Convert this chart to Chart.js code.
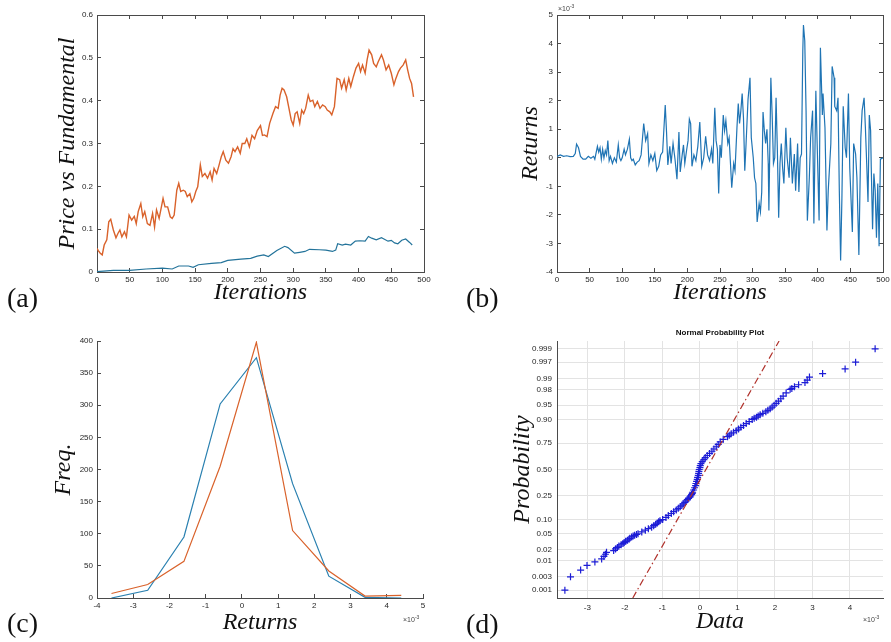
<!DOCTYPE html>
<html>
<head>
<meta charset="utf-8">
<script src="https://cdn.jsdelivr.net/npm/chart.js@4.4.1/dist/chart.umd.min.js"></script>
<style>
  html, body { margin: 0; padding: 0; background: #fff; overflow: hidden; }
  #page { position: relative; width: 891px; height: 642px; overflow: hidden; background: #fff; }
  canvas { position: absolute; }
  .tag { position: absolute; font-family: 'Liberation Serif', 'Times New Roman', serif; font-size: 28px; line-height: 1; color: #111; }
  .exp { position: absolute; font-family: 'Liberation Sans', Arial, sans-serif; font-size: 7px; color: #444; line-height: 1; }
  .exp sup { font-size: 5px; }
</style>
</head>
<body>
<div id="page">
  <canvas id="chartA" width="445" height="321" style="left:0;top:0"></canvas>
  <canvas id="chartB" width="460" height="321" style="left:445px;top:0"></canvas>
  <canvas id="chartC" width="445" height="321" style="left:0;top:321px"></canvas>
  <canvas id="chartD" width="460" height="321" style="left:445px;top:321px"></canvas>
  <div class="tag" style="left:7px;top:284px">(a)</div>
  <div class="tag" style="left:466px;top:284px">(b)</div>
  <div class="tag" style="left:7px;top:609px">(c)</div>
  <div class="tag" style="left:466px;top:610px">(d)</div>
  <div class="exp" style="left:558px;top:4px">&times;10<sup>-3</sup></div>
  <div class="exp" style="left:403px;top:615px">&times;10<sup>-3</sup></div>
  <div class="exp" style="left:863px;top:615px">&times;10<sup>-3</sup></div>
</div>
<script>
// (a) price vs fundamental
const priceIter = [0,2,5,8,11,15,18,21,25,29,32,35,38,42,45,49,53,57,60,63,67,70,73,77,81,85,88,91,95,99,101,104,108,112,115,118,122,125,128,132,135,138,142,145,148,151,154,158,161,165,169,173,176,179,183,186,190,193,197,201,205,208,211,215,219,222,226,229,233,237,241,245,250,253,256,260,264,269,273,277,280,283,286,290,293,297,300,303,306,310,313,316,319,323,326,330,333,337,341,345,349,352,356,359,363,367,371,374,378,381,385,388,392,396,400,403,406,410,413,416,420,423,427,430,435,438,442,446,450,454,457,461,464,468,472,475,478,481,484];
const priceVals = [0.055,0.05,0.044,0.04,0.063,0.075,0.117,0.123,0.098,0.08,0.09,0.098,0.082,0.094,0.082,0.133,0.121,0.13,0.113,0.141,0.16,0.129,0.141,0.113,0.109,0.137,0.105,0.145,0.125,0.156,0.172,0.152,0.152,0.129,0.125,0.133,0.191,0.207,0.188,0.191,0.188,0.176,0.183,0.164,0.172,0.188,0.199,0.25,0.223,0.23,0.219,0.234,0.215,0.242,0.23,0.246,0.269,0.281,0.261,0.254,0.269,0.288,0.281,0.292,0.277,0.3,0.3,0.311,0.292,0.319,0.311,0.33,0.342,0.319,0.32,0.316,0.347,0.37,0.386,0.382,0.413,0.429,0.425,0.409,0.386,0.355,0.343,0.37,0.374,0.347,0.378,0.37,0.382,0.413,0.398,0.401,0.386,0.398,0.382,0.39,0.386,0.378,0.374,0.367,0.386,0.452,0.449,0.429,0.449,0.425,0.452,0.433,0.456,0.476,0.487,0.468,0.483,0.464,0.495,0.518,0.507,0.487,0.479,0.491,0.507,0.495,0.472,0.483,0.464,0.437,0.452,0.468,0.476,0.483,0.495,0.472,0.452,0.44,0.409];
const fundIter = [0,10,25,50,75,100,115,125,140,147,155,175,190,200,220,235,245,255,262,275,287,292,302,310,318,325,340,350,360,365,368,375,380,388,395,402,410,415,420,427,435,445,450,455,460,466,472,478,482];
const fundVals = [0.001,0.002,0.004,0.004,0.007,0.009,0.007,0.014,0.014,0.011,0.017,0.02,0.022,0.027,0.03,0.032,0.037,0.04,0.036,0.05,0.06,0.057,0.044,0.046,0.048,0.053,0.052,0.051,0.048,0.051,0.066,0.063,0.065,0.063,0.072,0.073,0.072,0.083,0.079,0.075,0.08,0.072,0.074,0.068,0.066,0.074,0.077,0.069,0.063];
const iterTicks = [0,50,100,150,200,250,300,350,400,450,500];
const priceTicks = [0,0.1,0.2,0.3,0.4,0.5,0.6];

// (b) returns, in units of 1e-3
const retIter = [0,5,10,15,20,25,28,30,33,36,40,44,48,52,56,58,62,64,66,68,70,72,74,76,78,80,82,85,88,91,94,96,98,100,103,105,108,111,113,115,117,120,123,126,129,133,136,139,141,144,147,150,153,156,159,162,166,168,170,173,175,178,181,184,187,189,192,194,196,199,201,203,205,207,210,213,216,219,222,225,228,231,234,237,239,242,244,246,248,250,252,255,257,259,262,264,268,271,273,276,278,280,282,284,286,288,290,293,296,298,301,303,305,307,310,312,314,316,318,320,322,324,325,328,330,332,334,336,338,340,342,344,346,348,351,353,356,358,361,364,366,369,371,373,375,377,378,380,382,384,387,389,392,394,397,399,402,404,407,408,411,414,416,420,422,425,426,429,431,433,435,437,439,442,444,447,449,453,455,458,460,463,466,468,471,473,475,477,479,481,482,484,486,488,490,492,494,496,500];
const retVals = [0.05,0.1,0.05,0.07,0.04,0.05,0.15,0.48,0.35,0.05,-0.05,-0.05,0.05,-0.02,0.05,-0.05,0.4,0.2,0.35,-0.05,0.3,0,0.25,0.1,0.6,-0.1,0.05,-0.2,0,-0.15,0.45,0,-0.1,0,0.3,0.1,0.3,0.65,0,-0.1,-0.05,-0.25,-0.15,-0.1,0.1,1.2,0.6,0.85,-0.2,0.1,-0.1,0.15,-0.45,-0.3,0.1,0.2,1.85,0.9,-0.25,0.4,-0.2,0.5,-0.05,-0.75,0.9,-0.5,0.1,0.45,-0.2,0.3,0.6,1.35,1.2,-0.3,0.1,-0.1,0.4,1.25,-0.3,0,0.75,0.1,-0.1,0.3,-0.2,1.75,0.6,0.3,-1.25,0.45,0,1.5,0.95,1.3,0.5,0.7,-1.05,-0.2,-0.45,1.05,1.9,1.2,1.65,2.25,1.4,-0.45,0.5,2.05,2.8,0.7,0,-0.7,-0.9,-2.25,-1.6,-1.9,-1.2,1.6,0.95,0.5,1.0,-0.2,-1.85,2.8,1.5,-0.2,0,2.1,0.25,-2.1,-0.2,0.5,-0.35,-0.9,1.05,0,-0.7,0.7,-0.9,0.13,-1.15,0.5,-1.2,0,0.13,3.75,4.65,4.1,1.65,-2.2,-0.7,0.7,1.65,-2.3,2.35,0.5,-2.2,3.85,1.5,2.25,1.05,-2.55,-1.15,0.5,3.2,2.8,1.8,1.65,2.1,-1.15,-3.6,-1.4,1.8,0.35,0,2.25,-0.35,-2.6,0.5,0.13,-0.7,-3.4,0.7,1.65,2.1,1.05,-0.2,-1.55,1.5,0.95,-0.35,-2.5,-0.55,-1.15,-2.8,-0.9,-3.1,-0.05,0];
const retTicks = [-4,-3,-2,-1,0,1,2,3,4,5];

// (c) histogram of returns (bin centres in units of 1e-3)
const binCenters = [-3.6,-2.6,-1.6,-0.6,0.4,1.4,2.4,3.4,4.4];
const freqBlue = [0,12,95,302,374,178,34,1,0];
const freqOrange = [7,21,57,205,398,105,42,3,4];
const binTicks = [-4,-3,-2,-1,0,1,2,3,4,5];
const freqTicks = [0,50,100,150,200,250,300,350,400];

// (d) normal probability plot (data in units of 1e-3)
const qqData = [-3.6,-3.45,-3.18,-3.01,-2.8,-2.62,-2.56,-2.52,-2.49,-2.3,-2.25,-2.2,-2.16,-2.1,-2.05,-2.02,-1.98,-1.93,-1.89,-1.87,
  -1.82,-1.78,-1.74,-1.69,-1.65,-1.55,-1.455,-1.375,-1.287,-1.233,-1.18,-1.136,-1.1,-1.065,-0.994,-0.905,-0.843,-0.763,-0.701,-0.63,-0.577,-0.524,-0.479,-0.444,-0.399,-0.373,-0.337,-0.302,-0.266,-0.248,-0.222,-0.204,-0.195,-0.169,-0.142,-0.115,-0.106,-0.089,-0.071,-0.062,-0.044,-0.035,-0.027,-0.018,
  0,0.009,0.027,0.062,0.106,0.142,0.195,0.257,0.319,0.373,0.435,0.488,0.541,0.621,0.736,0.781,0.834,0.896,0.967,1.029,1.091,1.162,1.233,1.313,1.393,1.446,1.508,1.553,1.606,1.677,1.757,1.81,1.872,1.925,1.979,2.032,2.094,2.156,2.218,2.298,2.405,
  2.45,2.52,2.63,2.8,2.86,2.92,3.27,3.87,4.15,4.67];
const qqProb = [0.001,0.003,0.005,0.007,0.009,0.011,0.013,0.015,0.017,0.019,0.021,0.023,0.025,0.027,0.029,0.031,0.033,0.035,0.037,0.039,
  0.042,0.044,0.046,0.048,0.05,0.055,0.06,0.065,0.07,0.075,0.08,0.085,0.09,0.095,0.1,0.11,0.12,0.13,0.14,0.15,0.16,0.17,0.18,0.19,0.2,0.21,0.22,0.23,0.24,0.25,0.26,0.27,0.28,0.3,0.32,0.34,0.36,0.38,0.4,0.42,0.44,0.46,0.48,0.5,
  0.52,0.54,0.56,0.58,0.6,0.62,0.64,0.66,0.68,0.7,0.72,0.74,0.76,0.78,0.8,0.81,0.82,0.83,0.84,0.85,0.86,0.87,0.88,0.89,0.9,0.905,0.91,0.915,0.92,0.925,0.93,0.935,0.94,0.945,0.95,0.955,0.96,0.965,0.97,0.975,0.98,
  0.981,0.983,0.985,0.987,0.989,0.991,0.993,0.995,0.997,0.999];
const refLineX = [-1.79, 2.11];
const refLineP = [0.0005, 0.9995];
const dataTicks = [-3,-2,-1,0,1,2,3,4];
const probTicks = [0.001,0.003,0.01,0.02,0.05,0.1,0.25,0.5,0.75,0.9,0.95,0.98,0.99,0.997,0.999];
const probLabels = ['0.001','0.003','0.01','0.02','0.05','0.10','0.25','0.50','0.75','0.90','0.95','0.98','0.99','0.997','0.999'];

const axisColor = '#4a4a4a';
const tickColor = '#262626';
const tickFont = { family: "'Liberation Sans', Arial, sans-serif", size: 8 };
const titleFont = { family: "'Liberation Serif', 'Times New Roman', serif", size: 24, style: 'italic' };
const blue = '#1f74b4';
const orange = '#d9622b';

// inverse normal CDF (Acklam), used by the probability scale
function probit(p) {
  const a = [-39.69683028665376, 220.9460984245205, -275.9285104469687, 138.3577518672690, -30.66479806614716, 2.506628277459239];
  const b = [-54.47609879822406, 161.5858368580409, -155.6989798598866, 66.80131188771972, -13.28068155288572];
  const c = [-0.007784894002430293, -0.3223964580411365, -2.400758277161838, -2.549732539343734, 4.374664141464968, 2.938163982698783];
  const d = [0.007784695709041462, 0.3224671290700398, 2.445134137142996, 3.754408661907416];
  const lo = 0.02425;
  if (p < lo) {
    const q = Math.sqrt(-2 * Math.log(p));
    return (((((c[0]*q+c[1])*q+c[2])*q+c[3])*q+c[4])*q+c[5]) / ((((d[0]*q+d[1])*q+d[2])*q+d[3])*q+1);
  }
  if (p > 1 - lo) {
    const q = Math.sqrt(-2 * Math.log(1 - p));
    return -(((((c[0]*q+c[1])*q+c[2])*q+c[3])*q+c[4])*q+c[5]) / ((((d[0]*q+d[1])*q+d[2])*q+d[3])*q+1);
  }
  const q = p - 0.5, r = q * q;
  return (((((a[0]*r+a[1])*r+a[2])*r+a[3])*r+a[4])*r+a[5])*q / (((((b[0]*r+b[1])*r+b[2])*r+b[3])*r+b[4])*r+1);
}
function normcdf(z) {
  const t = 1 / (1 + 0.2316419 * Math.abs(z));
  const y = 0.3989423 * Math.exp(-z * z / 2) * t * (0.3193815 + t * (-0.3565638 + t * (1.781478 + t * (-1.821256 + t * 1.330274))));
  return z > 0 ? 1 - y : y;
}

class NormProbScale extends Chart.Scale {
  static id = 'normprob';
  static defaults = {};
  determineDataLimits() {
    this.min = this.options.min;
    this.max = this.options.max;
  }
  buildTicks() {
    return probTicks.map(v => ({ value: v }));
  }
  configure() {
    super.configure();
    this._zMin = probit(this.min);
    this._zMax = probit(this.max);
  }
  getPixelForValue(v) {
    return this.getPixelForDecimal((probit(v) - this._zMin) / (this._zMax - this._zMin));
  }
  getPixelForTick(i) {
    return this.getPixelForValue(this.ticks[i].value);
  }
  getValueForPixel(px) {
    return normcdf(this._zMin + this.getDecimalForPixel(px) * (this._zMax - this._zMin));
  }
}
Chart.register(NormProbScale);

function pts(xs, ys) { return xs.map((x, i) => ({ x: x, y: ys[i] })); }

function axis(o) {
  const horiz = o.position === 'bottom';
  return {
    type: o.type || 'linear', position: o.position, min: o.min, max: o.max,
    afterBuildTicks: o.ticks ? (s => { s.ticks = o.ticks.map(v => ({ value: v })); }) : undefined,
    afterFit: s => { if (horiz) s.height = o.size; else s.width = o.size; },
    border: { color: axisColor, width: 1 },
    grid: {
      drawOnChartArea: !!o.gridColor, color: o.gridColor || axisColor, tickColor: axisColor,
      drawTicks: o.tickLen !== 0, tickLength: o.tickLen === undefined ? -4 : o.tickLen
    },
    ticks: {
      font: tickFont, color: tickColor, autoSkip: false, maxRotation: 0,
      padding: o.labelPad !== undefined ? o.labelPad : (horiz ? 7 : 8),
      callback: o.labels ? ((v, i) => o.labels[i]) : (v => String(v))
    },
    title: {
      display: true, text: o.title, font: titleFont, color: '#111',
      padding: horiz ? { top: 0, bottom: o.titlePad } : { top: o.titlePad, bottom: 0 }
    }
  };
}

function mirror(position, min, max, ticks) {
  return {
    type: 'linear', position: position, min: min, max: max,
    afterBuildTicks: s => { s.ticks = ticks.map(v => ({ value: v })); },
    afterFit: s => { if (position === 'top') s.height = 0; else s.width = 0; },
    border: { color: axisColor, width: 1 },
    grid: { drawOnChartArea: false, tickColor: axisColor, tickLength: -4 },
    ticks: { display: false }
  };
}

const common = {
  responsive: false,
  animation: false,
  events: [],
  plugins: { legend: { display: false }, tooltip: { enabled: false } }
};

new Chart(document.getElementById('chartA'), {
  type: 'line',
  data: {
    datasets: [
      { data: pts(priceIter, priceVals), borderColor: orange, borderWidth: 1.4, pointRadius: 0, tension: 0 },
      { data: pts(fundIter, fundVals), borderColor: '#23739a', borderWidth: 1.2, pointRadius: 0, tension: 0 }
    ]
  },
  options: Object.assign({}, common, {
    layout: { padding: { left: 0, top: 15, right: 21, bottom: 0 } },
    scales: {
      x: axis({ position: 'bottom', min: 0, max: 500, ticks: iterTicks, size: 49, title: 'Iterations', titlePad: 13.6 }),
      y: axis({ position: 'left', min: 0, max: 0.6, ticks: priceTicks, size: 97, title: 'Price vs Fundamental', titlePad: 53.6 }),
      x2: mirror('top', 0, 500, iterTicks),
      y2: mirror('right', 0, 0.6, priceTicks)
    }
  })
});

new Chart(document.getElementById('chartB'), {
  type: 'line',
  data: {
    datasets: [
      { data: pts(retIter, retVals), borderColor: blue, borderWidth: 1.2, pointRadius: 0, tension: 0 }
    ]
  },
  options: Object.assign({}, common, {
    layout: { padding: { left: 0, top: 15, right: 22, bottom: 0 } },
    scales: {
      x: axis({ position: 'bottom', min: 0, max: 500, ticks: iterTicks, size: 49, title: 'Iterations', titlePad: 13.6 }),
      y: axis({ position: 'left', min: -4, max: 5, ticks: retTicks, size: 112, title: 'Returns', titlePad: 71.6 }),
      x2: mirror('top', 0, 500, iterTicks),
      y2: mirror('right', -4, 5, retTicks)
    }
  })
});

new Chart(document.getElementById('chartC'), {
  type: 'line',
  data: {
    datasets: [
      { data: pts(binCenters, freqOrange), borderColor: orange, borderWidth: 1.2, pointRadius: 0, tension: 0 },
      { data: pts(binCenters, freqBlue), borderColor: '#2a80b0', borderWidth: 1.2, pointRadius: 0, tension: 0 }
    ]
  },
  options: Object.assign({}, common, {
    layout: { padding: { left: 0, top: 20, right: 22, bottom: 0 } },
    scales: {
      x: axis({ position: 'bottom', min: -4, max: 5, ticks: binTicks, size: 44, title: 'Returns', titlePad: 4.6 }),
      y: axis({ position: 'left', min: 0, max: 400, ticks: freqTicks, size: 97, title: 'Freq.', titlePad: 49.6 })
    }
  })
});

new Chart(document.getElementById('chartD'), {
  type: 'scatter',
  data: {
    datasets: [
      { data: pts(refLineX, refLineP), showLine: true, borderColor: '#b0312b', borderWidth: 1.2,
        borderDash: [7, 3, 1.5, 3], pointRadius: 0 },
      { data: pts(qqData, qqProb), pointStyle: 'cross', pointRadius: 3.5, borderColor: '#1c1cd6',
        backgroundColor: '#1c1cd6', borderWidth: 1.2 }
    ]
  },
  options: Object.assign({}, common, {
    layout: { padding: { left: 0, top: 0, right: 22, bottom: 0 } },
    plugins: {
      legend: { display: false }, tooltip: { enabled: false },
      title: {
        display: true, text: 'Normal Probability Plot', fullSize: false, color: '#111',
        font: { family: "'Liberation Sans', Arial, sans-serif", size: 8, weight: 'bold' },
        padding: { top: 7.2, bottom: 3.2 }
      }
    },
    scales: {
      x: axis({ position: 'bottom', min: -3.81, max: 4.88, ticks: dataTicks, size: 44, title: 'Data', titlePad: 5.6,
        gridColor: '#e3e3e3', tickLen: 0, labelPad: 5 }),
      y: axis({ type: 'normprob', position: 'left', min: 0.0005, max: 0.9995, labels: probLabels, size: 112,
        title: 'Probability', titlePad: 63.6, gridColor: '#e3e3e3', tickLen: 0, labelPad: 5 })
    }
  })
});
</script>
</body>
</html>
